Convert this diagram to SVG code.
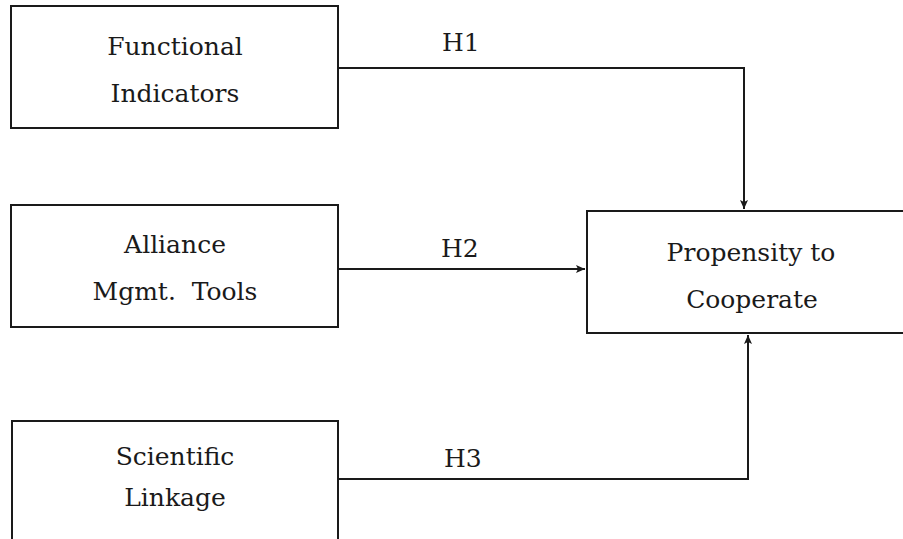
<svg xmlns="http://www.w3.org/2000/svg" width="903" height="539" viewBox="0 0 903 539">
  <style>
    .box { fill: #ffffff; stroke: #1a1a1a; stroke-width: 2; }
    .lbl { font-family: "DejaVu Serif", "Liberation Serif", serif; font-size: 25px; fill: #1a1a1a; text-anchor: middle; }
    .edge { fill: none; stroke: #1a1a1a; stroke-width: 2; }
    .hyp { font-family: "DejaVu Serif", "Liberation Serif", serif; font-size: 25px; fill: #1a1a1a; }
  </style>
  <defs>
    <marker id="arrow" markerWidth="10" markerHeight="8" refX="9" refY="4" orient="auto" markerUnits="userSpaceOnUse">
      <path d="M0,0 L9,4 L0,8 L2,4 Z" fill="#1a1a1a"/>
    </marker>
  </defs>
  <rect width="903" height="539" fill="#ffffff"/>

  <g id="functional-indicators">
    <rect class="box" x="11" y="6" width="327" height="122"/>
    <text class="lbl" x="175" y="55">Functional</text>
    <text class="lbl" x="175" y="102">Indicators</text>
  </g>

  <g id="alliance-mgmt-tools">
    <rect class="box" x="11" y="205" width="327" height="122"/>
    <text class="lbl" x="175" y="253">Alliance</text>
    <text class="lbl" x="175" y="300" xml:space="preserve">Mgmt.  Tools</text>
  </g>

  <g id="scientific-linkage">
    <rect class="box" x="12" y="421" width="326" height="130"/>
    <text class="lbl" x="175" y="465">Scientific</text>
    <text class="lbl" x="175" y="506">Linkage</text>
  </g>

  <g id="propensity-to-cooperate">
    <rect class="box" x="587" y="211" width="330" height="122"/>
    <text class="lbl" x="751" y="261">Propensity to</text>
    <text class="lbl" x="752" y="308">Cooperate</text>
  </g>

  <g id="connectors">
    <path class="edge" d="M338,68 H744 V209" marker-end="url(#arrow)"/>
    <path class="edge" d="M338,269 H585" marker-end="url(#arrow)"/>
    <path class="edge" d="M338,479 H748 V335" marker-end="url(#arrow)"/>
    <text class="hyp" x="442" y="51">H1</text>
    <text class="hyp" x="441" y="257">H2</text>
    <text class="hyp" x="444" y="467">H3</text>
  </g>
</svg>
